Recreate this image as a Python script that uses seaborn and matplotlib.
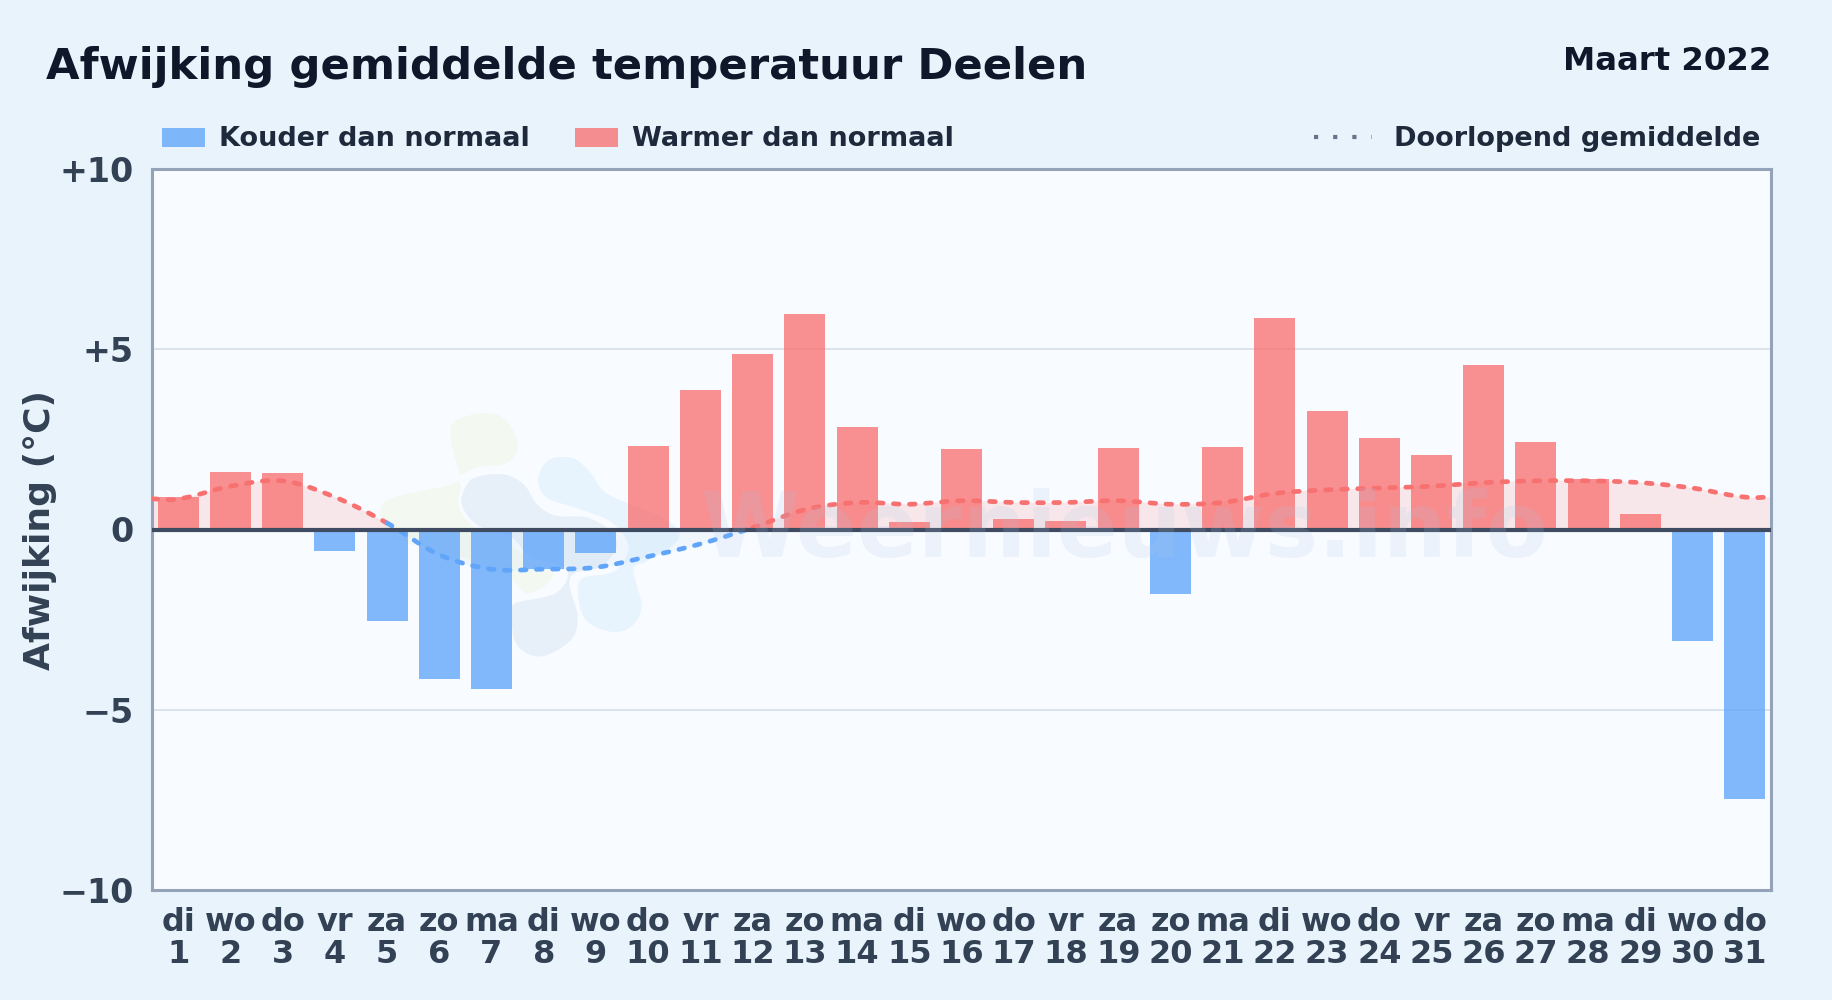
import numpy as np
import pandas as pd
import seaborn as sns
import matplotlib
matplotlib.use("Agg")
import matplotlib.pyplot as plt
from matplotlib.patches import Patch, Polygon
from matplotlib.lines import Line2D

weekdays = ["di","wo","do","vr","za","zo","ma","di","wo","do","vr","za","zo","ma","di","wo",
            "do","vr","za","zo","ma","di","wo","do","vr","za","zo","ma","di","wo","do"]
days = list(range(1, 32))
anomaly = [0.9,1.6,1.58,-0.6,-2.55,-4.15,-4.42,-1.1,-0.65,2.32,3.87,4.87,5.98,2.85,0.2,2.23,
           0.28,0.23,2.27,-1.8,2.3,5.87,3.3,2.55,2.08,4.57,2.42,1.4,0.42,-3.1,-7.47]
running = [0.85,1.2,1.35,0.9,0.18,-0.7,-1.1,-1.1,-1.05,-0.75,-0.4,0.05,0.55,0.75,0.7,0.8,
           0.75,0.75,0.8,0.7,0.75,1.0,1.1,1.15,1.2,1.3,1.35,1.35,1.3,1.15,0.9]
yticks = [-10,-5,0,5,10]
yticklabels = ["\u221210","\u22125","0","+5","+10"]
title = "Afwijking gemiddelde temperatuur Deelen"
period = "Maart 2022"

BG="#e8f3fc"; PANEL="#f8fbff"; BLUE="#60a5fa"; RED="#f87171"
sns.set_theme(style="white")
plt.rcParams['font.family']=['DejaVu Sans']
plt.rcParams['font.weight']='bold'

W,H=1832,1000
fig=plt.figure(figsize=(W/100,H/100),dpi=100,facecolor=BG)
ax=fig.add_axes([152/W,1-890/H,(1771-152)/W,(890-169)/H],facecolor=PANEL)

def closed_smooth(pts,n=12):
    p=np.array(pts,float); m=len(p); out=[]
    t=np.linspace(0,1,n,endpoint=False)[:,None]
    for i in range(m):
        a,b,c,d=p[i-1],p[i],p[(i+1)%m],p[(i+2)%m]
        out.append(.5*(2*b+(c-a)*t+(2*a-5*b+4*c-d)*t**2+(3*b-a-3*c+d)*t**3))
    return np.vstack(out)

# faint logo of the watermark
logo_green=[(235,95),(295,42),(385,40),(440,100),(445,160),(400,198),(320,208),(240,248),(150,268),(50,295),
            (25,345),(55,405),(110,435),(170,445),(270,475),(400,525),(470,585),(545,545),(545,500),(450,450),(300,300)]
logo_blue=[(500,235),(535,175),(610,170),(665,215),(705,270),(775,305),(900,360),(930,420),(830,490),(795,510),
           (820,620),(785,685),(720,700),(645,665),(620,590),(635,530),(730,510),(770,440),(720,370),(620,330),(525,295)]
logo_gray=[(270,295),(305,232),(400,218),(465,250),(505,310),(560,342),(650,347),(720,385),(745,440),(695,505),
           (605,535),(628,650),(605,725),(510,775),(435,735),(420,640),(435,605),(555,575),(585,510),(480,475),
           (420,415),(330,385),(285,345)]
for pts,c in [(logo_green,"#f3f9f1"),(logo_blue,"#e7f3fd"),(logo_gray,"#e7eff8")]:
    q=closed_smooth(pts)
    xy=np.c_[(370+q[:,0]/3)/W,1-(400+q[:,1]/3)/H]
    ax.add_patch(Polygon(xy,closed=True,transform=fig.transFigure,facecolor=c,edgecolor=PANEL,lw=2.5,zorder=0.5))
fig.text(1124/W,1-532/H,"Weernieuws.info",fontsize=64.7,color="#a9c6e8",alpha=.16,ha="center",va="center",fontweight="bold",zorder=5)

df=pd.DataFrame({"day":days,"label":[f"{w}\n{d}" for w,d in zip(weekdays,days)],"anomaly":anomaly})
df["kind"]=np.where(df.anomaly<0,"neg","pos")
sns.barplot(data=df,x="label",y="anomaly",hue="kind",hue_order=["neg","pos"],dodge=False,
            palette={"neg":BLUE,"pos":RED},alpha=.78,width=.785,legend=False,ax=ax,zorder=2,saturation=1,linewidth=0)

# smooth running mean: Catmull-Rom resampling of the read values
xs=np.arange(31.)
def smooth(x,y,n=16):
    xe=np.r_[x[0]-.5,x,x[-1]+.5]; ye=np.r_[y[0],y,y[-1]]
    X=[];Y=[]
    for i in range(len(xe)-1):
        p0=ye[max(i-1,0)];p1=ye[i];p2=ye[i+1];p3=ye[min(i+2,len(ye)-1)]
        t=np.linspace(0,1,n,endpoint=False)
        X.append(xe[i]+t*(xe[i+1]-xe[i]))
        Y.append(.5*(2*p1+(p2-p0)*t+(2*p0-5*p1+4*p2-p3)*t**2+(3*p1-p0-3*p2+p3)*t**3))
    return np.r_[np.concatenate(X),xe[-1]],np.r_[np.concatenate(Y),ye[-1]]
sx,sy=smooth(xs,np.array(running,float))
ax.fill_between(sx,0,sy,where=sy>=0,interpolate=True,color=RED,alpha=.14,lw=0,zorder=1.5)
ax.fill_between(sx,0,sy,where=sy<=0,interpolate=True,color=BLUE,alpha=.05,lw=0,zorder=1.5)

neg_days=[i for i,v in enumerate(running) if v<0]
b0,b1=neg_days[0]-1,neg_days[-1]+1
line_kw=dict(lw=3.4,ax=ax,zorder=4,estimator=None,sort=False,linestyle=(0,(1.2,2.2)),dash_capstyle="round")
m1=sx<=b0; m2=(sx>=b0)&(sx<=b1); m3=sx>=b1
sns.lineplot(x=sx[m1],y=sy[m1],color=RED,**line_kw)
sns.lineplot(x=sx[m2],y=sy[m2],color=BLUE,**line_kw)
sns.lineplot(x=sx[m3],y=sy[m3],color=RED,**line_kw)

ax.axhline(0,color="#3f4b60",lw=3,zorder=6)
for v in (-5,5):
    ax.axhline(v,color="#dbe4ec",lw=1.4,zorder=1)
ax.set_xlim(-.5,30.5); ax.set_ylim(-10,10)
ax.set_yticks(yticks,yticklabels)
ax.tick_params(axis="both",length=0,labelsize=24,labelcolor="#334155")
ax.tick_params(axis="x",pad=12.5,labelsize=23)
ax.tick_params(axis="y",pad=13)
for lb in ax.get_xticklabels(): lb.set_linespacing(1.03)
ax.set_xlabel("")
ax.set_ylabel("Afwijking (\u00b0C)",fontsize=26,color="#334155",fontweight="bold",labelpad=2)
for s in ax.spines.values():
    s.set_visible(True); s.set_color("#94a3b8"); s.set_linewidth(2.2)

fig.text(46/W,1-67.5/H,title,fontsize=31.25,color="#0f172a",va="center",ha="left",fontweight="bold")
fig.text(1771/W,1-61/H,period,fontsize=23.3,color="#0f172a",va="center",ha="right",fontweight="bold")

leg=fig.legend(handles=[Patch(color=BLUE,alpha=.78,lw=0,label="Kouder dan normaal"),Patch(color=RED,alpha=.78,lw=0,label="Warmer dan normaal")],
    loc="center left",bbox_to_anchor=(162/W,1-139.5/H),ncol=2,frameon=False,fontsize=19.5,labelcolor="#1e293b",
    handlelength=1.6,handleheight=.7,columnspacing=1.65,handletextpad=.52,borderpad=0,borderaxespad=0)
leg2=fig.legend(handles=[Line2D([],[],color="#64748b",lw=3,linestyle=(0,(1,3.6)),label="Doorlopend gemiddelde")],
    loc="center right",bbox_to_anchor=(1760/W,1-139.5/H),frameon=False,fontsize=19.5,labelcolor="#1e293b",
    handlelength=2.15,handletextpad=.8,borderpad=0,borderaxespad=0)
fig.savefig("out.png",dpi=100,facecolor=BG)
